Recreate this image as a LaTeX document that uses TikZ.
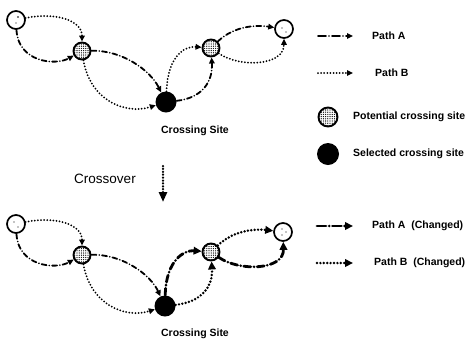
\documentclass[tikz,border=0pt]{standalone}
\usepackage{fontspec}
\setmainfont{Liberation Sans}
\usetikzlibrary{arrows.meta,patterns.meta}
\begin{document}
\begin{tikzpicture}[x=1pt,y=-1pt,
 endpt/.style={circle,draw,line width=1.7pt,fill=white,minimum size=18pt,inner sep=0pt},
 potsite/.style={circle,draw,line width=1.9pt,minimum size=17pt,inner sep=0pt,preaction={fill=white},pattern={Dots[distance=2.2pt,radius=0.65pt]}},
 selsite/.style={circle,fill=black,minimum size=21pt,inner sep=0pt},
 pa/.style={line width=1.8pt,line cap=round,dash pattern=on 5pt off 2.8pt on 0pt off 2.8pt,-{Triangle[length=6pt,width=5.5pt]}},
 pb/.style={line width=2pt,line cap=round,dash pattern=on 0pt off 3.1pt,-{Triangle[length=6pt,width=5.5pt]}},
 pac/.style={line width=2.8pt,line cap=round,dash pattern=on 7pt off 3.2pt on 0pt off 3.2pt,-{Triangle[length=8pt,width=7.5pt]}},
 pbc/.style={line width=2.7pt,line cap=round,dash pattern=on 0pt off 3.4pt,-{Triangle[length=8pt,width=7.5pt]}},
 lbl/.style={font=\bfseries\fontsize{10.5}{12}\selectfont,inner sep=0pt},
 tinydot/.style={fill=black},
]
\useasboundingbox (0,0) rectangle (468,341);

% ---------- top graph ----------
\node[endpt] (s1) at (16,20) {};
\node[potsite] (p1) at (82,51) {};
\node[selsite] (c) at (166,102) {};
\node[potsite] (p2) at (211,48) {};
\node[endpt] (e) at (284,29) {};
\fill[tinydot] (s1) ++(2,-3) circle (0.8);
\fill[tinydot] (s1) ++(0,3) circle (0.7);
\fill[tinydot] (e) ++(-2,-1) circle (0.7);
\fill[tinydot] (e) ++(2,3) circle (0.7);

\draw[pb] (s1) .. controls (55,12) and (82,20) .. (p1);
\draw[pa] (s1) .. controls (18,62) and (55,66) .. (p1);
\draw[pa] (p1) .. controls (122,50) and (150,70) .. (c);
\draw[pb] (p1) .. controls (90,100) and (125,115) .. (c);
\draw[pb] (c) .. controls (168,55) and (185,46) .. (p2);
\draw[pa] (c) .. controls (202,98) and (213,82) .. (p2);
\draw[pa] (p2) .. controls (235,25) and (258,25) .. (e);
\draw[pb] (p2) .. controls (240,68) and (284,66) .. (e);
\node[lbl] (cs1) at (195,131) {Crossing Site};

% ---------- crossover ----------
\node[font=\fontsize{13.5}{15}\selectfont,inner sep=0pt] (cross) at (105,179) {Crossover};
\coordinate (co1) at (163,166);
\coordinate (co2) at (163,202);
\draw[line width=2.5pt,line cap=round,dash pattern=on 0pt off 2.9pt,-{Triangle[length=10pt,width=8pt]}] (co1) -- (co2);

% ---------- bottom graph ----------
\begin{scope}[shift={(0,204)}]
\node[endpt] (s1b) at (16,20) {};
\node[potsite] (p1b) at (82,51) {};
\node[selsite] (cb) at (165,102) {};
\node[potsite] (p2b) at (211,48) {};
\node[endpt] (eb) at (283,28) {};
\fill[tinydot] (s1b) ++(-2,-2) circle (0.7);
\fill[tinydot] (s1b) ++(2,3) circle (0.7);
\fill[tinydot] (eb) ++(-1,-3) circle (0.7);
\fill[tinydot] (eb) ++(3,0) circle (0.7);
\fill[tinydot] (eb) ++(-1,3) circle (0.7);

\draw[pb] (s1b) .. controls (55,12) and (82,20) .. (p1b);
\draw[pa] (s1b) .. controls (18,62) and (55,66) .. (p1b);
\draw[pa] (p1b) .. controls (122,50) and (150,70) .. (cb);
\draw[pb] (p1b) .. controls (90,100) and (125,115) .. (cb);
\draw[pac] (cb) .. controls (166,55) and (185,46) .. (p2b);
\draw[pbc] (cb) .. controls (202,98) and (213,82) .. (p2b);
\draw[pbc] (p2b) .. controls (235,25) and (258,25) .. (eb);
\draw[pac] (p2b) .. controls (240,68) and (284,66) .. (eb);
\node[lbl] (cs2) at (195,130) {Crossing Site};
\end{scope}

% ---------- legend ----------
\coordinate (la1) at (318,36); \coordinate (la2) at (353,36);
\draw[pa,dash pattern=on 8pt off 3pt on 0pt off 3pt] (la1) -- (la2);
\node[lbl,anchor=west] (ta) at (372,36) {Path A};
\coordinate (lb1) at (318,73); \coordinate (lb2) at (353,73);
\draw[pb] (lb1) -- (lb2);
\node[lbl,anchor=west] (tb) at (375,73) {Path B};
\node[potsite,minimum size=19pt] (lp) at (328,117) {};
\node[lbl,anchor=west] (tp) at (353,117) {Potential crossing site};
\node[selsite,minimum size=22pt] (ls) at (328,154) {};
\node[lbl,anchor=west] (ts) at (353,154) {Selected crossing site};

\coordinate (lac1) at (317,226); \coordinate (lac2) at (353,226);
\draw[pac,dash pattern=on 9pt off 3.2pt on 0pt off 3.2pt] (lac1) -- (lac2);
\node[lbl,anchor=west] (tac) at (372,226) {Path A\ \ (Changed)};
\coordinate (lbc1) at (317,263); \coordinate (lbc2) at (353,263);
\draw[pbc] (lbc1) -- (lbc2);
\node[lbl,anchor=west] (tbc) at (374,263) {Path B\ \ (Changed)};
\end{tikzpicture}
\end{document}
